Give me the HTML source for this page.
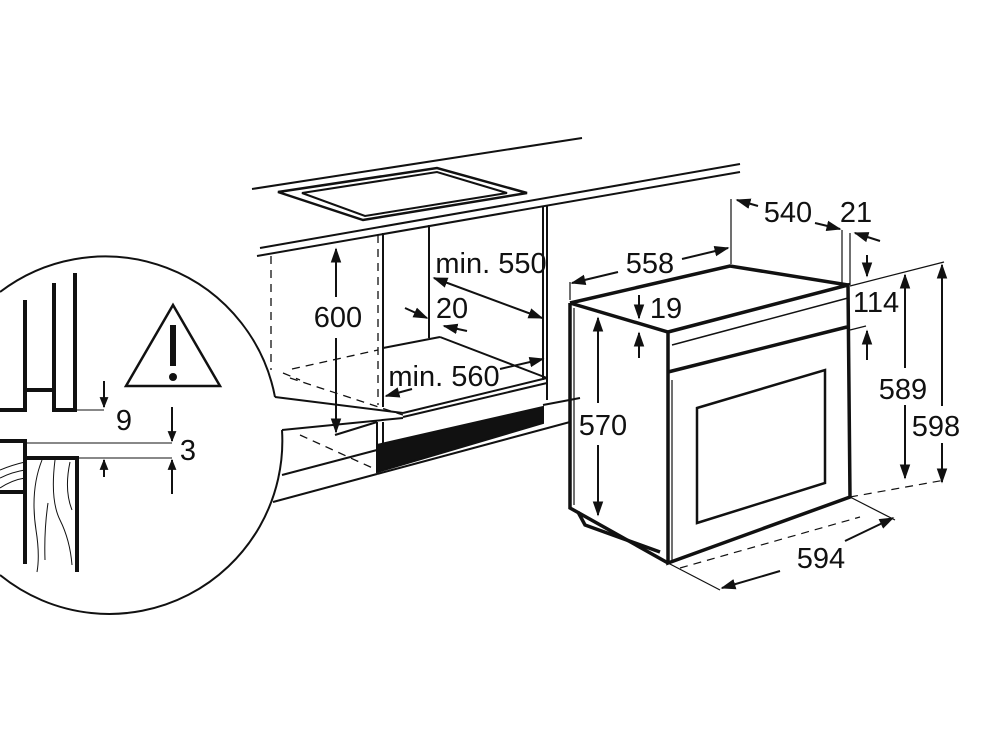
<!DOCTYPE html>
<html><head><meta charset="utf-8"><style>
html,body{margin:0;padding:0;background:#fff;}
svg{display:block;}
text{font-family:"Liberation Sans",Arial,sans-serif;font-size:29px;fill:#111;}
</style></head><body>
<svg width="983" height="736" viewBox="0 0 983 736" xmlns="http://www.w3.org/2000/svg">
<defs>
<marker id="a" viewBox="0 0 10 10" refX="9" refY="5" markerWidth="11" markerHeight="11" orient="auto-start-reverse" markerUnits="userSpaceOnUse"><path d="M0,1 L10,5 L0,9 z" fill="#111"/></marker>
<marker id="b" viewBox="0 0 10 10" refX="9" refY="5" markerWidth="15" markerHeight="15" orient="auto-start-reverse" markerUnits="userSpaceOnUse"><path d="M0,1.5 L10,5 L0,8.5 z" fill="#111"/></marker>
</defs>
<g stroke="#111" fill="none" stroke-width="2">
<line x1="252" y1="189" x2="582" y2="138"/>
<line x1="260" y1="248" x2="740" y2="164"/>
<line x1="257" y1="256" x2="740" y2="172"/>
<polygon points="278,192 437,168 527,193 363,220" stroke-width="2.5"/>
<polygon points="302,193 437,172 507,193 365,216" stroke-width="2"/>
<line x1="271" y1="256" x2="271" y2="370" stroke-dasharray="8,6" stroke-width="1.3"/>
<line x1="378" y1="235" x2="378" y2="405" stroke-dasharray="8,6" stroke-width="1.3"/>
<line x1="383" y1="233" x2="383" y2="407"/>
<line x1="429" y1="225" x2="429" y2="338"/>
<line x1="543" y1="206" x2="543" y2="380"/>
<line x1="547" y1="205" x2="547" y2="400"/>
<line x1="383" y1="348" x2="440" y2="337"/>
<line x1="440" y1="337" x2="547" y2="378"/>
<line x1="403" y1="413" x2="547" y2="378"/>
<line x1="403" y1="417" x2="547" y2="383"/>
<line x1="292" y1="369" x2="378" y2="350" stroke-dasharray="8,6" stroke-width="1.3"/>
<line x1="283" y1="373" x2="300" y2="380" stroke-dasharray="8,6" stroke-width="1.3"/>
<line x1="290" y1="378" x2="403" y2="415" stroke-dasharray="8,6" stroke-width="1.3"/>
<line x1="275" y1="397" x2="403" y2="413"/>
<line x1="282" y1="430" x2="403" y2="418"/>
<line x1="335" y1="435" x2="377" y2="422"/>
<line x1="377" y1="422" x2="377" y2="472"/>
<line x1="383" y1="422" x2="383" y2="445"/>
<polygon points="377,445 543,407 543,423 377,472" fill="#111"/>
<line x1="543" y1="405" x2="580" y2="398"/>
<line x1="282" y1="475" x2="377" y2="450"/>
<line x1="273" y1="502" x2="377" y2="474"/>
<line x1="377" y1="474" x2="570" y2="422"/>
<line x1="300" y1="435" x2="377" y2="470" stroke-dasharray="8,6" stroke-width="1.3"/>
<line x1="336" y1="249" x2="336" y2="297" marker-start="url(#b)"/>
<line x1="336" y1="338" x2="336" y2="432" marker-end="url(#b)"/>
<line x1="434" y1="278" x2="542" y2="318" marker-start="url(#b)" marker-end="url(#b)"/>
<line x1="405" y1="308" x2="427" y2="318" marker-end="url(#b)"/>
<line x1="467" y1="331" x2="444" y2="326" marker-end="url(#b)"/>
<line x1="500" y1="369" x2="543" y2="359" marker-end="url(#b)"/>
<line x1="412" y1="389" x2="386" y2="396" marker-end="url(#b)"/>
<path d="M 0,292 A 173 173 0 0 1 275,397" stroke-width="2"/>
<path d="M 282,430 A 173 173 0 0 1 0,575" stroke-width="2"/>
<g stroke-width="4">
<polyline points="0,410 25,410 25,300"/>
<line x1="25" y1="390" x2="54" y2="390"/>
<polyline points="54,283 54,410 75,410 75,273"/>
<polyline points="0,441 25,441 25,492 0,492"/>
<line x1="25" y1="443" x2="25" y2="564"/>
<polyline points="25,458 77,458 77,572"/>
</g>
<line x1="75" y1="410" x2="104" y2="410" stroke-width="1"/>
<line x1="25" y1="443" x2="172" y2="443" stroke-width="1"/>
<line x1="77" y1="458" x2="172" y2="458" stroke-width="1"/>
<g stroke-width="1">
<path d="M0,470 Q12,465 25,462"/><path d="M0,478 Q12,472 25,470"/><path d="M0,488 Q12,480 25,478"/>
<path d="M42,460 Q30,490 36,530 Q40,555 37,572"/>
<path d="M55,460 Q50,500 60,520 Q70,540 72,565"/>
<path d="M70,462 Q64,490 72,510"/>
<path d="M48,503 Q44,530 45,560"/>
</g>
<line x1="104" y1="381" x2="104" y2="407" marker-end="url(#a)"/>
<line x1="104" y1="477" x2="104" y2="460" marker-end="url(#a)"/>
<line x1="172" y1="407" x2="172" y2="441" marker-end="url(#a)"/>
<line x1="172" y1="494" x2="172" y2="460" marker-end="url(#a)"/>
<polygon points="126,386 173,305 220,386" stroke-width="2.5"/>
<line x1="173" y1="325" x2="173" y2="366" stroke-width="6"/>
<circle cx="173" cy="377" r="4" fill="#111" stroke="none"/>
<g stroke-width="3.5">
<polyline points="570,303 730,266 848,285"/>
<polyline points="570,303 668,332 848,285 850,497 668,563 668,332"/>
<polyline points="570,303 570,508 668,563"/>
<line x1="668" y1="372" x2="847" y2="327"/>
<polyline points="578,512 585,525 660,552"/>
</g>
<line x1="672" y1="345" x2="848" y2="298" stroke-width="1.5"/>
<line x1="672" y1="380" x2="672" y2="560" stroke-width="1.2"/>
<line x1="574" y1="308" x2="574" y2="505" stroke-width="1.2"/>
<polygon points="697,408 825,370 825,483 697,523" stroke-width="2.5"/>
<g stroke-width="1.2">
<line x1="731" y1="199" x2="731" y2="264"/>
<line x1="842" y1="230" x2="842" y2="283"/>
<line x1="850" y1="233" x2="850" y2="285"/>
<line x1="570" y1="282" x2="570" y2="300"/>
<line x1="850" y1="286" x2="944" y2="262"/>
<line x1="850" y1="330" x2="866" y2="326"/>
<line x1="850" y1="497" x2="945" y2="480" stroke-dasharray="8,6"/>
<line x1="850" y1="497" x2="895" y2="520"/>
<line x1="668" y1="563" x2="720" y2="590"/>
<line x1="680" y1="568" x2="860" y2="517" stroke-dasharray="8,6"/>
<line x1="640" y1="323" x2="668" y2="332"/>
</g>
<line x1="737" y1="200" x2="758" y2="206" marker-start="url(#b)"/>
<line x1="815" y1="223" x2="840" y2="229" marker-end="url(#b)"/>
<line x1="880" y1="241" x2="855" y2="233" marker-end="url(#b)"/>
<line x1="572" y1="283" x2="618" y2="272" marker-start="url(#b)"/>
<line x1="682" y1="259" x2="728" y2="248" marker-end="url(#b)"/>
<line x1="639" y1="295" x2="639" y2="318" marker-end="url(#b)"/>
<line x1="639" y1="358" x2="639" y2="333" marker-end="url(#b)"/>
<line x1="598" y1="318" x2="598" y2="403" marker-start="url(#b)"/>
<line x1="598" y1="445" x2="598" y2="515" marker-end="url(#b)"/>
<line x1="867" y1="255" x2="867" y2="276" marker-end="url(#b)"/>
<line x1="867" y1="360" x2="867" y2="331" marker-end="url(#b)"/>
<line x1="905" y1="275" x2="905" y2="368" marker-start="url(#b)"/>
<line x1="905" y1="405" x2="905" y2="478" marker-end="url(#b)"/>
<line x1="942" y1="265" x2="942" y2="406" marker-start="url(#b)"/>
<line x1="942" y1="443" x2="942" y2="482" marker-end="url(#b)"/>
<line x1="722" y1="588" x2="780" y2="571" marker-start="url(#b)"/>
<line x1="845" y1="541" x2="893" y2="518" marker-end="url(#b)"/>
</g>
<g>
<text x="338" y="327" text-anchor="middle">600</text>
<text x="491" y="273" text-anchor="middle">min. 550</text>
<text x="452" y="318" text-anchor="middle">20</text>
<text x="444" y="386" text-anchor="middle">min. 560</text>
<text x="124" y="430" text-anchor="middle">9</text>
<text x="188" y="460" text-anchor="middle">3</text>
<text x="788" y="222" text-anchor="middle">540</text>
<text x="856" y="222" text-anchor="middle">21</text>
<text x="650" y="273" text-anchor="middle">558</text>
<text x="666" y="318" text-anchor="middle">19</text>
<text x="603" y="435" text-anchor="middle">570</text>
<text x="876" y="312" text-anchor="middle">114</text>
<text x="903" y="399" text-anchor="middle">589</text>
<text x="936" y="436" text-anchor="middle">598</text>
<text x="821" y="568" text-anchor="middle">594</text>
</g>
</svg>
</body></html>
